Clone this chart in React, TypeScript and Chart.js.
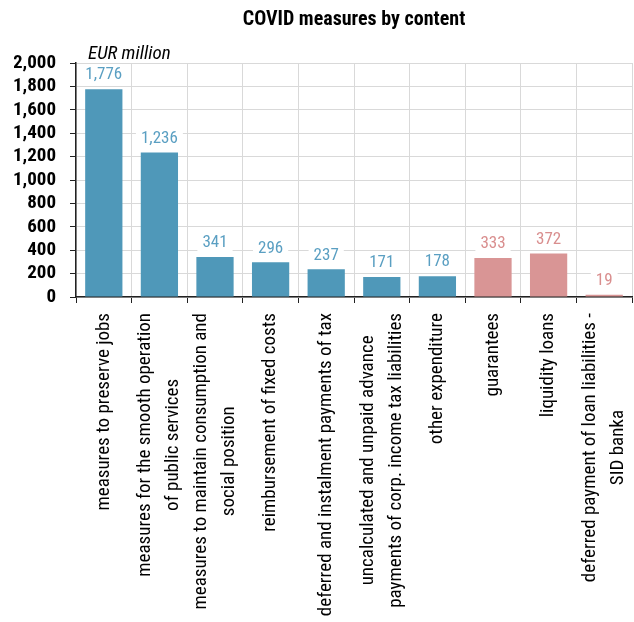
import React, { useEffect, useRef } from "react";
import { Chart, registerables } from "chart.js";

Chart.register(...registerables);

const categories: string[][] = [
  ["measures to preserve jobs"],
  ["measures for the smooth operation", "of public services"],
  ["measures to maintain consumption and", "social position"],
  ["reimbursement of fixed costs"],
  ["deferred and instalment payments of tax"],
  ["uncalculated and unpaid advance", "payments of corp. income tax liabilities"],
  ["other expenditure"],
  ["guarantees"],
  ["liquidity loans"],
  ["deferred payment of loan liabilities -", "SID banka"],
];
const values = [1776, 1236, 341, 296, 237, 171, 178, 333, 372, 19];
const groups = ["exp", "exp", "exp", "exp", "exp", "exp", "exp", "liq", "liq", "liq"];
const yTicks = [0, 200, 400, 600, 800, 1000, 1200, 1400, 1600, 1800, 2000];

const BAR_COLORS: Record<string, string> = { exp: "#4f98b9", liq: "#d99595" };
const LABEL_COLORS: Record<string, string> = { exp: "#5a9fc2", liq: "#d98e8e" };
const FONT = "'Roboto Condensed', 'Liberation Sans', sans-serif";

const valueLabels = {
  id: "valueLabels",
  afterDatasetsDraw(chart: any) {
    const ctx = chart.ctx;
    const meta = chart.getDatasetMeta(0);
    ctx.save();
    ctx.font = `17px ${FONT}`;
    ctx.textAlign = "center";
    ctx.textBaseline = "middle";
    meta.data.forEach((bar: any, i: number) => {
      const text = values[i].toLocaleString("en-US");
      const w = ctx.measureText(text).width;
      const y = bar.y - 15;
      ctx.fillStyle = "#ffffff";
      ctx.fillRect(bar.x - w / 2 - 5, y - 10, w + 10, 20);
      ctx.fillStyle = LABEL_COLORS[groups[i]];
      ctx.fillText(text, bar.x, y + 1);
    });
    ctx.restore();
  },
};

const categoryLabels = {
  id: "categoryLabels",
  afterDraw(chart: any) {
    const ctx = chart.ctx;
    const xs = chart.scales.x;
    const top = chart.chartArea.bottom + 16;
    const lh = 28;
    ctx.save();
    ctx.font = `19px ${FONT}`;
    ctx.fillStyle = "#000";
    ctx.textAlign = "center";
    ctx.textBaseline = "middle";
    categories.forEach((lines, i) => {
      const cx = xs.getPixelForValue(i);
      const maxW = Math.max(...lines.map((l) => ctx.measureText(l).width));
      ctx.save();
      ctx.translate(cx, top);
      ctx.rotate(-Math.PI / 2);
      lines.forEach((l, j) => {
        ctx.fillText(l, -maxW / 2, (j - (lines.length - 1) / 2) * lh);
      });
      ctx.restore();
    });
    ctx.restore();
  },
};

const unitLabel = {
  id: "unitLabel",
  afterDraw(chart: any) {
    const ctx = chart.ctx;
    const area = chart.chartArea;
    ctx.save();
    ctx.font = `italic 19px ${FONT}`;
    ctx.fillStyle = "#000";
    ctx.textAlign = "left";
    ctx.textBaseline = "alphabetic";
    ctx.fillText("EUR million", area.left + 12, area.top - 4);
    ctx.restore();
  },
};

export default function App() {
  const ref = useRef<HTMLCanvasElement>(null);
  useEffect(() => {
    document.body.style.margin = "0";
    const chart = new Chart(ref.current!, {
      type: "bar",
      data: {
        labels: categories.map((c) => c.join(" ")),
        datasets: [
          {
            data: values,
            backgroundColor: groups.map((g) => BAR_COLORS[g]),
            borderWidth: 0,
            categoryPercentage: 1,
            barPercentage: 0.67,
          },
        ],
      },
      options: {
        responsive: false,
        animation: false,
        devicePixelRatio: 1,
        layout: { padding: { left: 14, right: 2, top: 8, bottom: 319 } },
        plugins: {
          legend: { display: false },
          tooltip: { enabled: false },
          title: {
            display: true,
            fullSize: false,
            text: "COVID measures by content",
            color: "#000",
            font: { family: FONT, size: 20, weight: "bold" },
            padding: { top: 0, bottom: 31 },
          },
        },
        scales: {
          x: {
            grid: { color: "#d9d9d9", tickColor: "#222", tickLength: 6, offset: true },
            border: { color: "#222", width: 1.5 },
            ticks: { display: false },
          },
          y: {
            min: 0,
            max: 2000,
            afterBuildTicks: (scale: any) => {
              scale.ticks = yTicks.map((v) => ({ value: v }));
            },
            afterFit: (scale: any) => {
              scale.width = 62;
            },
            grid: { color: "#d9d9d9", tickColor: "#222", tickLength: 6 },
            border: { color: "#222", width: 1.5 },
            ticks: {
              autoSkip: false,
              color: "#000",
              padding: 14,
              font: { family: FONT, size: 19, weight: "bold" },
              callback: (v: any) => Number(v).toLocaleString("en-US"),
            },
          },
        },
      },
      plugins: [valueLabels, categoryLabels, unitLabel],
    });
    return () => chart.destroy();
  }, []);
  return <canvas ref={ref} width={634} height={622} style={{ display: "block" }} />;
}
